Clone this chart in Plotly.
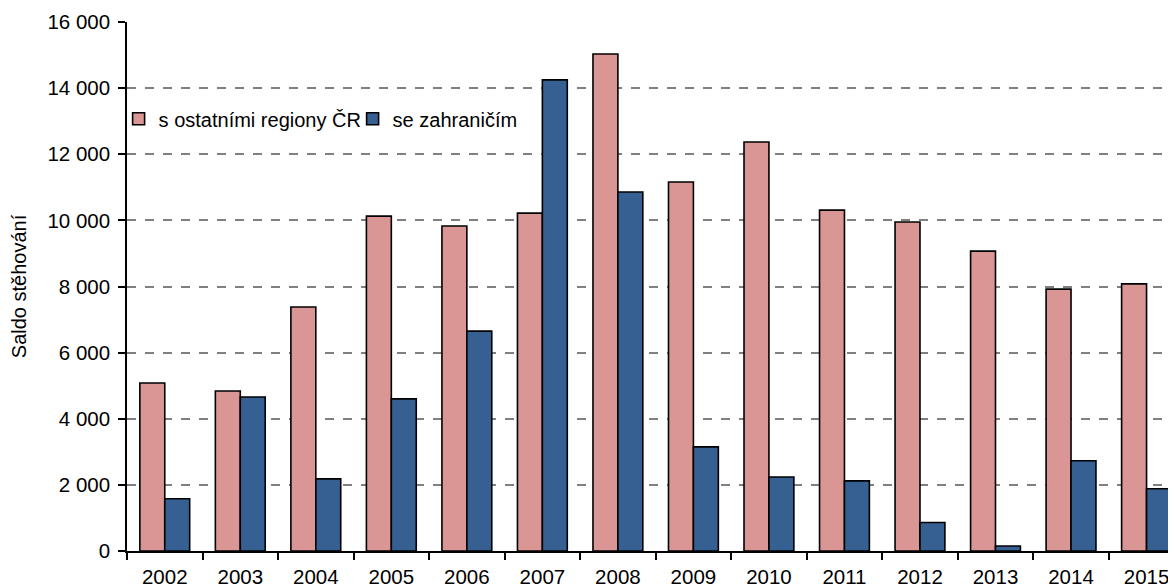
import plotly.graph_objects as go

years = ["2002", "2003", "2004", "2005", "2006", "2007", "2008",
         "2009", "2010", "2011", "2012", "2013", "2014", "2015"]
regiony = [5080, 4840, 7380, 10130, 9830, 10220, 15030,
           11160, 12370, 10310, 9950, 9070, 7920, 8080]
zahranici = [1580, 4660, 2180, 4600, 6650, 14250, 10860,
             3150, 2240, 2120, 860, 150, 2730, 1885]
series_names = ["s ostatními regiony ČR", "se zahraničím"]
tick_vals = [0, 2000, 4000, 6000, 8000, 10000, 12000, 14000, 16000]

fig = go.Figure()
fig.add_trace(go.Bar(x=years, y=regiony, name=series_names[0],
                     marker=dict(color="#D99694", line=dict(color="black", width=1.6))))
fig.add_trace(go.Bar(x=years, y=zahranici, name=series_names[1],
                     marker=dict(color="#366092", line=dict(color="black", width=1.6))))

# page body has an 8px margin, so margins are shifted accordingly
fig.update_layout(
    width=1176, height=585,
    margin=dict(l=119, r=8, t=14, b=42, autoexpand=False),
    paper_bgcolor="white", plot_bgcolor="white",
    separators=", ",
    font=dict(family="Liberation Sans, Arial, sans-serif", size=20, color="black"),
    barmode="group", bargap=0.34, bargroupgap=0,
    showlegend=True,
    legend=dict(orientation="h", x=-0.008, y=0.854, xanchor="left", yanchor="top",
                bgcolor="rgba(0,0,0,0)", font=dict(size=20), itemwidth=30,
                entrywidth=189, tracegroupgap=0),
)
fig.update_xaxes(type="category", range=[-0.5, 13.39], showline=True,
                 linecolor="black", linewidth=1.5, ticks="outside", tickson="boundaries",
                 ticklen=7, tickwidth=1.5, tickcolor="black", showgrid=False,
                 tickfont=dict(size=20.5), ticklabelstandoff=7, automargin=False)
fig.update_yaxes(range=[0, 16000], tickvals=tick_vals, tickformat=",d",
                 showline=True, linecolor="black", linewidth=1.5,
                 ticks="outside", ticklen=7, tickwidth=1.5, tickcolor="black",
                 showgrid=True, gridcolor="#808080", griddash="dash", gridwidth=1.5,
                 zeroline=False, tickfont=dict(size=20.5), ticklabelstandoff=4,
                 automargin=False,
                 title=dict(text="Saldo stěhování", font=dict(size=20), standoff=18))

fig.write_html("out.html")
